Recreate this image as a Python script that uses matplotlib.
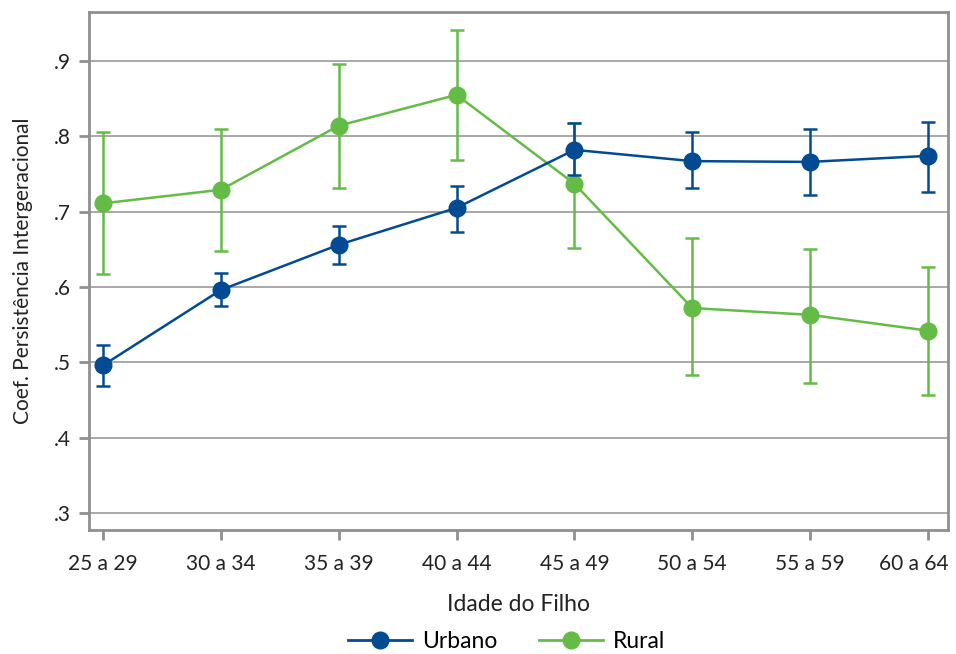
import numpy as np
import matplotlib.pyplot as plt
from matplotlib.lines import Line2D

age_groups = ["25 a 29", "30 a 34", "35 a 39", "40 a 44",
              "45 a 49", "50 a 54", "55 a 59", "60 a 64"]

urbano = [0.496, 0.596, 0.656, 0.705, 0.782, 0.767, 0.766, 0.774]
urbano_low = [0.469, 0.575, 0.630, 0.673, 0.749, 0.731, 0.722, 0.726]
urbano_high = [0.523, 0.619, 0.681, 0.734, 0.818, 0.806, 0.810, 0.819]

rural = [0.711, 0.729, 0.814, 0.855, 0.737, 0.572, 0.563, 0.542]
rural_low = [0.617, 0.648, 0.731, 0.769, 0.652, 0.483, 0.473, 0.457]
rural_high = [0.806, 0.810, 0.896, 0.941, 0.818, 0.665, 0.650, 0.627]

y_ticks = [0.3, 0.4, 0.5, 0.6, 0.7, 0.8, 0.9]

BLUE = "#024A91"
GREEN = "#64BC46"
GRAY = "#8f8f8f"
TEXT = "#222222"


def main():
    plt.rcParams["font.family"] = ["Lato", "DejaVu Sans"]

    fig = plt.figure(figsize=(9.56, 6.54), dpi=100)
    ax = fig.add_axes([0.0931, 0.1896, 0.8985, 0.7921])

    x = np.arange(len(age_groups))

    for vals, low, high, color, z in [
        (rural, rural_low, rural_high, GREEN, 3),
        (urbano, urbano_low, urbano_high, BLUE, 4),
    ]:
        vals = np.array(vals)
        yerr = [vals - np.array(low), np.array(high) - vals]
        ax.errorbar(
            x, vals, yerr=yerr,
            color=color, linewidth=1.8,
            marker="o", markersize=12,
            elinewidth=1.8, capsize=5, capthick=1.8,
            zorder=z,
        )

    ax.set_xlim(-0.119, 7.17)
    ax.set_ylim(0.2774, 0.965)

    ax.set_xticks(x)
    # last label is pushed back inside the figure, as in the original
    ax.set_xticklabels(age_groups[:-1] + [""])
    ax.annotate(
        age_groups[-1],
        xy=(x[-1], 0), xycoords=ax.get_xaxis_transform(),
        xytext=(-10, -17), textcoords="offset points",
        ha="center", va="top", fontsize=15, color=TEXT,
    )

    ax.set_yticks(y_ticks)
    ax.set_yticklabels(["." + str(int(round(v * 10))) for v in y_ticks])

    ax.grid(axis="y", color="#9a9a9a", linewidth=1.2, zorder=0)
    ax.set_axisbelow(True)

    for spine in ax.spines.values():
        spine.set_color(GRAY)
        spine.set_linewidth(2)

    ax.tick_params(axis="both", colors=GRAY, width=2, length=7,
                   labelsize=15, labelcolor=TEXT)
    ax.tick_params(axis="x", pad=10)
    ax.tick_params(axis="y", pad=6)

    ax.set_xlabel("Idade do Filho", fontsize=16.5, color=TEXT, labelpad=15)
    ax.set_ylabel("Coef. Persistência Intergeracional", fontsize=15,
                  color=TEXT, labelpad=15)

    handles = [
        Line2D([], [], color=BLUE, linewidth=2, marker="o", markersize=12),
        Line2D([], [], color=GREEN, linewidth=2, marker="o", markersize=12),
    ]
    fig.legend(
        handles, ["Urbano", "Rural"],
        loc="center", bbox_to_anchor=(0.53, 0.019), ncol=2,
        frameon=False, fontsize=16.5, handlelength=2.8, columnspacing=1.8,
        handletextpad=0.45,
    )

    fig.savefig("out.png", dpi=100)
    plt.close(fig)


if __name__ == "__main__":
    main()
